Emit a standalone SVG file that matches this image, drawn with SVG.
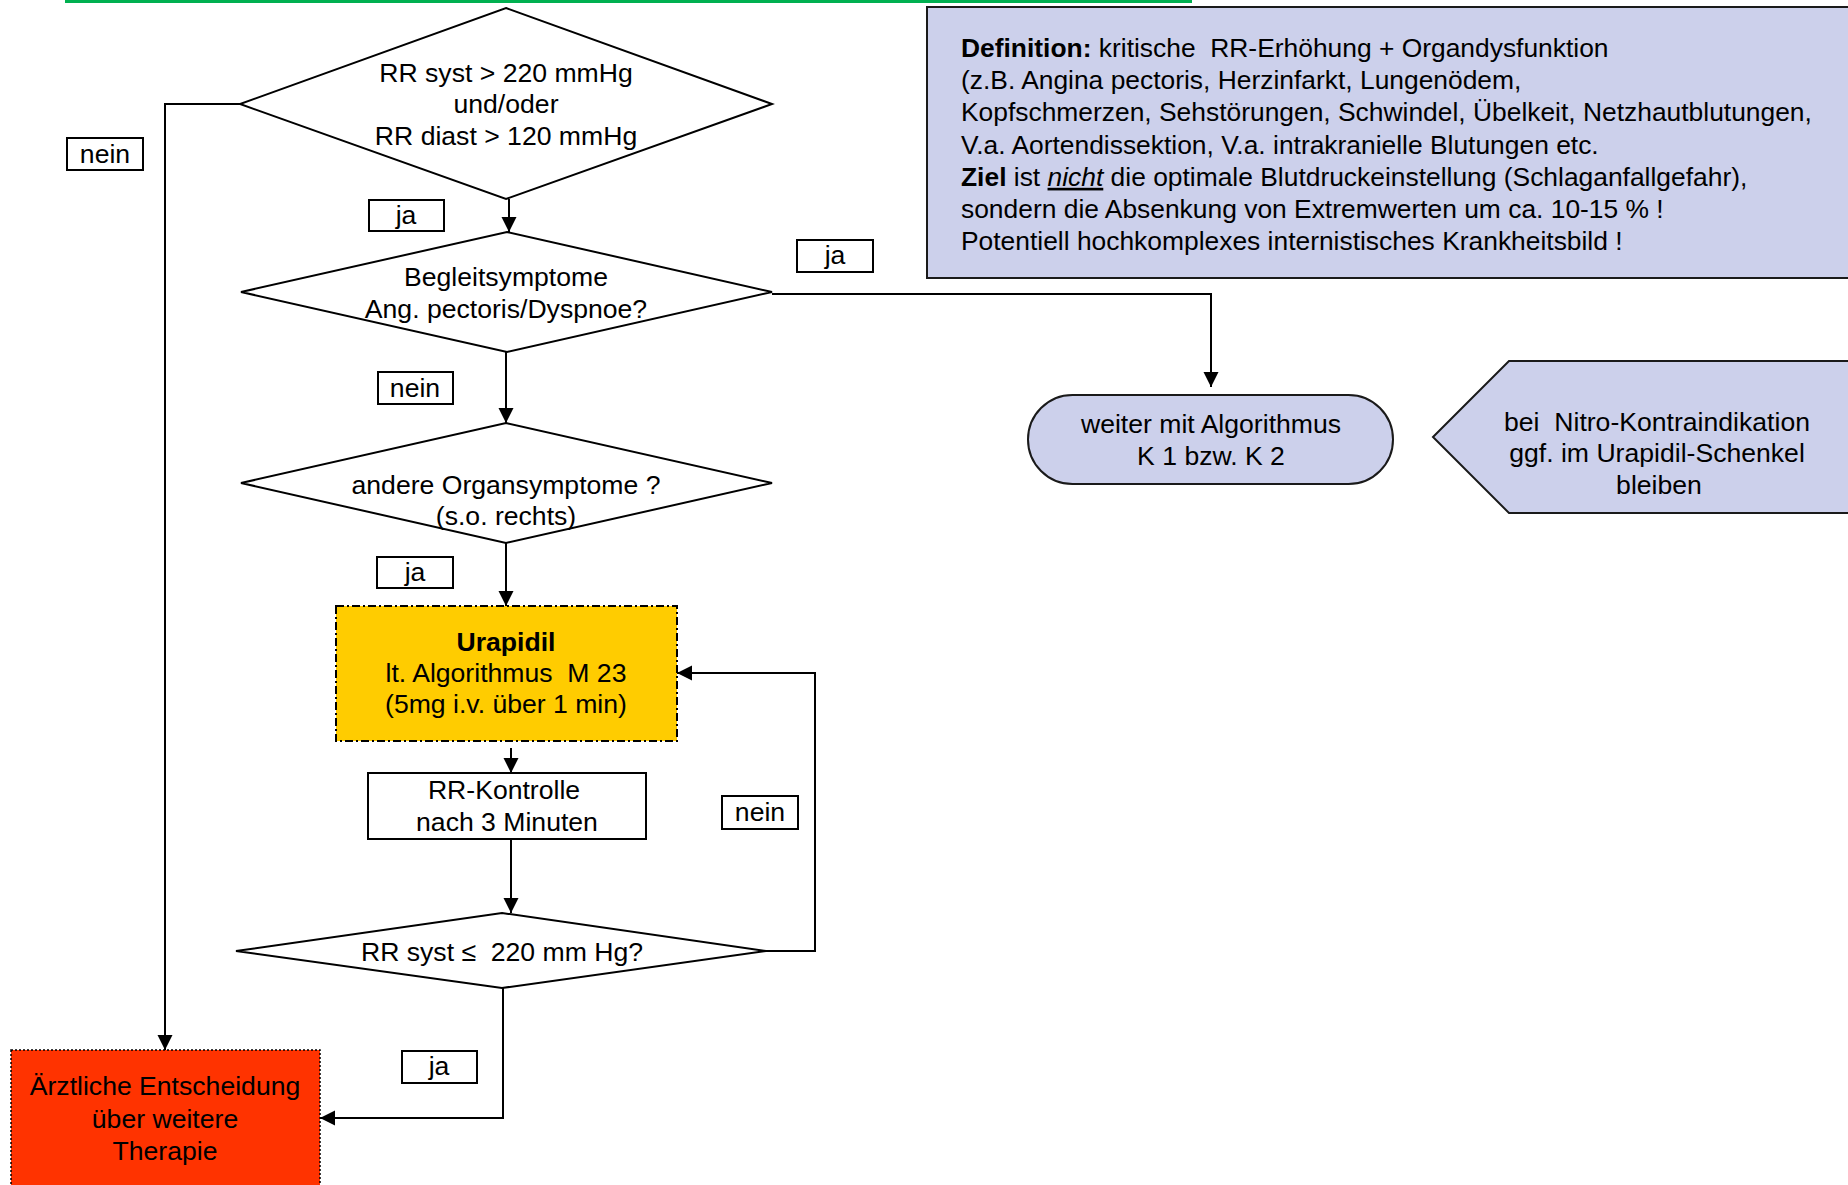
<svg xmlns="http://www.w3.org/2000/svg" width="1848" height="1185" viewBox="0 0 1848 1185">
  <style>
    text { font-family: "Liberation Sans", Arial, sans-serif; font-size: 26.6px; fill: #000; white-space: pre; }
    .c { text-anchor: middle; }
    .b { font-weight: bold; }
    .def { font-size: 26.4px; }
    .shape { fill: #fff; stroke: #000; stroke-width: 2; }
    .lbl { fill: #fff; stroke: #000; stroke-width: 2; }
    .lav { fill: #ccd0eb; stroke: #1a1a1a; stroke-width: 2; }
    .wire { fill: none; stroke: #000; stroke-width: 2; }
  </style>
  <defs>
    <marker id="arrow" markerUnits="userSpaceOnUse" markerWidth="16" markerHeight="16" refX="15" refY="7.5" orient="auto">
      <path d="M0,0 L15,7.5 L0,15 z" fill="#000"/>
    </marker>
  </defs>

  <rect width="1848" height="1185" fill="#fff"/>

  <!-- green rule at the top edge -->
  <line x1="65" y1="1.5" x2="1192" y2="1.5" stroke="#00b050" stroke-width="3"/>

  <!-- definition panel -->
  <g id="definition">
    <rect class="lav" x="927" y="7" width="940" height="271"/>
    <text class="def" x="961" y="57" xml:space="preserve"><tspan class="b">Definition:</tspan> kritische  RR-Erhöhung + Organdysfunktion</text>
    <text class="def" x="961" y="89.2">(z.B. Angina pectoris, Herzinfarkt, Lungenödem,</text>
    <text class="def" x="961" y="121.4">Kopfschmerzen, Sehstörungen, Schwindel, Übelkeit, Netzhautblutungen,</text>
    <text class="def" x="961" y="153.6">V.a. Aortendissektion, V.a. intrakranielle Blutungen etc.</text>
    <text class="def" x="961" y="185.8" xml:space="preserve"><tspan class="b">Ziel</tspan> ist <tspan font-style="italic" text-decoration="underline">nicht</tspan> die optimale Blutdruckeinstellung (Schlaganfallgefahr),</text>
    <text class="def" x="961" y="218">sondern die Absenkung von Extremwerten um ca. 10-15 % !</text>
    <text class="def" x="961" y="250.2">Potentiell hochkomplexes internistisches Krankheitsbild !</text>
  </g>

  <!-- decision: blood pressure thresholds -->
  <g id="d-rr">
    <polygon class="shape" points="506,8 772,104 506,199 240,104"/>
    <text class="c" x="506" y="82">RR syst &gt; 220 mmHg</text>
    <text class="c" x="506" y="113">und/oder</text>
    <text class="c" x="506" y="145">RR diast &gt; 120 mmHg</text>
  </g>

  <!-- decision: accompanying symptoms -->
  <g id="d-begleit">
    <polygon class="shape" points="507,232 772,292 507,352 241,292"/>
    <text class="c" x="506" y="286">Begleitsymptome</text>
    <text class="c" x="506" y="318">Ang. pectoris/Dyspnoe?</text>
  </g>

  <!-- decision: other organ symptoms -->
  <g id="d-organ">
    <polygon class="shape" points="506,423 772,483 506,543 241,483"/>
    <text class="c" x="506" y="494">andere Organsymptome ?</text>
    <text class="c" x="506" y="525">(s.o. rechts)</text>
  </g>

  <!-- Urapidil administration -->
  <g id="urapidil">
    <rect x="336" y="606" width="341" height="135" fill="#ffcc00" stroke="#000" stroke-width="2" stroke-dasharray="8 3 2 3"/>
    <text class="c b" x="506" y="651">Urapidil</text>
    <text class="c" x="506" y="682" xml:space="preserve">lt. Algorithmus  M 23</text>
    <text class="c" x="506" y="713">(5mg i.v. über 1 min)</text>
  </g>

  <!-- blood pressure re-check -->
  <g id="kontrolle">
    <rect class="shape" x="368" y="773" width="278" height="66"/>
    <text class="c" x="504" y="799">RR-Kontrolle</text>
    <text class="c" x="507" y="831">nach 3 Minuten</text>
  </g>

  <!-- decision: target reached -->
  <g id="d-ziel">
    <polygon class="shape" points="502,913 766,951 502,988 236,951"/>
    <text class="c" x="502" y="961" xml:space="preserve">RR syst ≤  220 mm Hg?</text>
  </g>

  <!-- physician decision -->
  <g id="arzt">
    <rect x="11" y="1050" width="309" height="150" fill="#ff3300" stroke="#000" stroke-width="1.5" stroke-dasharray="2 2"/>
    <text class="c" x="165" y="1095">Ärztliche Entscheidung</text>
    <text class="c" x="165" y="1128">über weitere</text>
    <text class="c" x="165" y="1160">Therapie</text>
  </g>

  <!-- continue with K1 / K2 -->
  <g id="weiter">
    <rect class="lav" x="1028" y="395" width="365" height="89" rx="44.5" ry="44.5"/>
    <text class="c" x="1211" y="433">weiter mit Algorithmus</text>
    <text class="c" x="1211" y="465">K 1 bzw. K 2</text>
  </g>

  <!-- note on nitro contraindication -->
  <g id="hinweis">
    <polygon class="lav" points="1433,437 1509,361 1860,361 1860,513 1509,513"/>
    <text class="c" x="1657" y="431" xml:space="preserve">bei  Nitro-Kontraindikation</text>
    <text class="c" x="1657" y="462">ggf. im Urapidil-Schenkel</text>
    <text class="c" x="1659" y="494">bleiben</text>
  </g>

  <!-- branch labels -->
  <g id="labels">
    <rect class="lbl" x="67" y="138" width="76" height="32"/>
    <text class="c" x="105" y="163">nein</text>
    <rect class="lbl" x="369" y="200" width="75" height="31"/>
    <text class="c" x="406" y="224">ja</text>
    <rect class="lbl" x="797" y="240" width="76" height="32"/>
    <text class="c" x="835" y="264">ja</text>
    <rect class="lbl" x="378" y="372" width="75" height="32"/>
    <text class="c" x="415" y="397">nein</text>
    <rect class="lbl" x="377" y="557" width="76" height="31"/>
    <text class="c" x="415" y="581">ja</text>
    <rect class="lbl" x="722" y="796" width="76" height="33"/>
    <text class="c" x="760" y="821">nein</text>
    <rect class="lbl" x="402" y="1051" width="75" height="32"/>
    <text class="c" x="439" y="1075">ja</text>
  </g>

  <!-- connectors -->
  <g id="connectors">
    <path class="wire" d="M240,104 H165 V1050" marker-end="url(#arrow)"/>
    <path class="wire" d="M509,199 V232" marker-end="url(#arrow)"/>
    <path class="wire" d="M772,294 H1211 V387" marker-end="url(#arrow)"/>
    <path class="wire" d="M506,352 V423" marker-end="url(#arrow)"/>
    <path class="wire" d="M506,543 V606" marker-end="url(#arrow)"/>
    <path class="wire" d="M511,748 V773" marker-end="url(#arrow)"/>
    <path class="wire" d="M511,839 V913" marker-end="url(#arrow)"/>
    <path class="wire" d="M766,951 H815 V673 H677" marker-end="url(#arrow)"/>
    <path class="wire" d="M503,988 V1118 H320" marker-end="url(#arrow)"/>
  </g>
</svg>
